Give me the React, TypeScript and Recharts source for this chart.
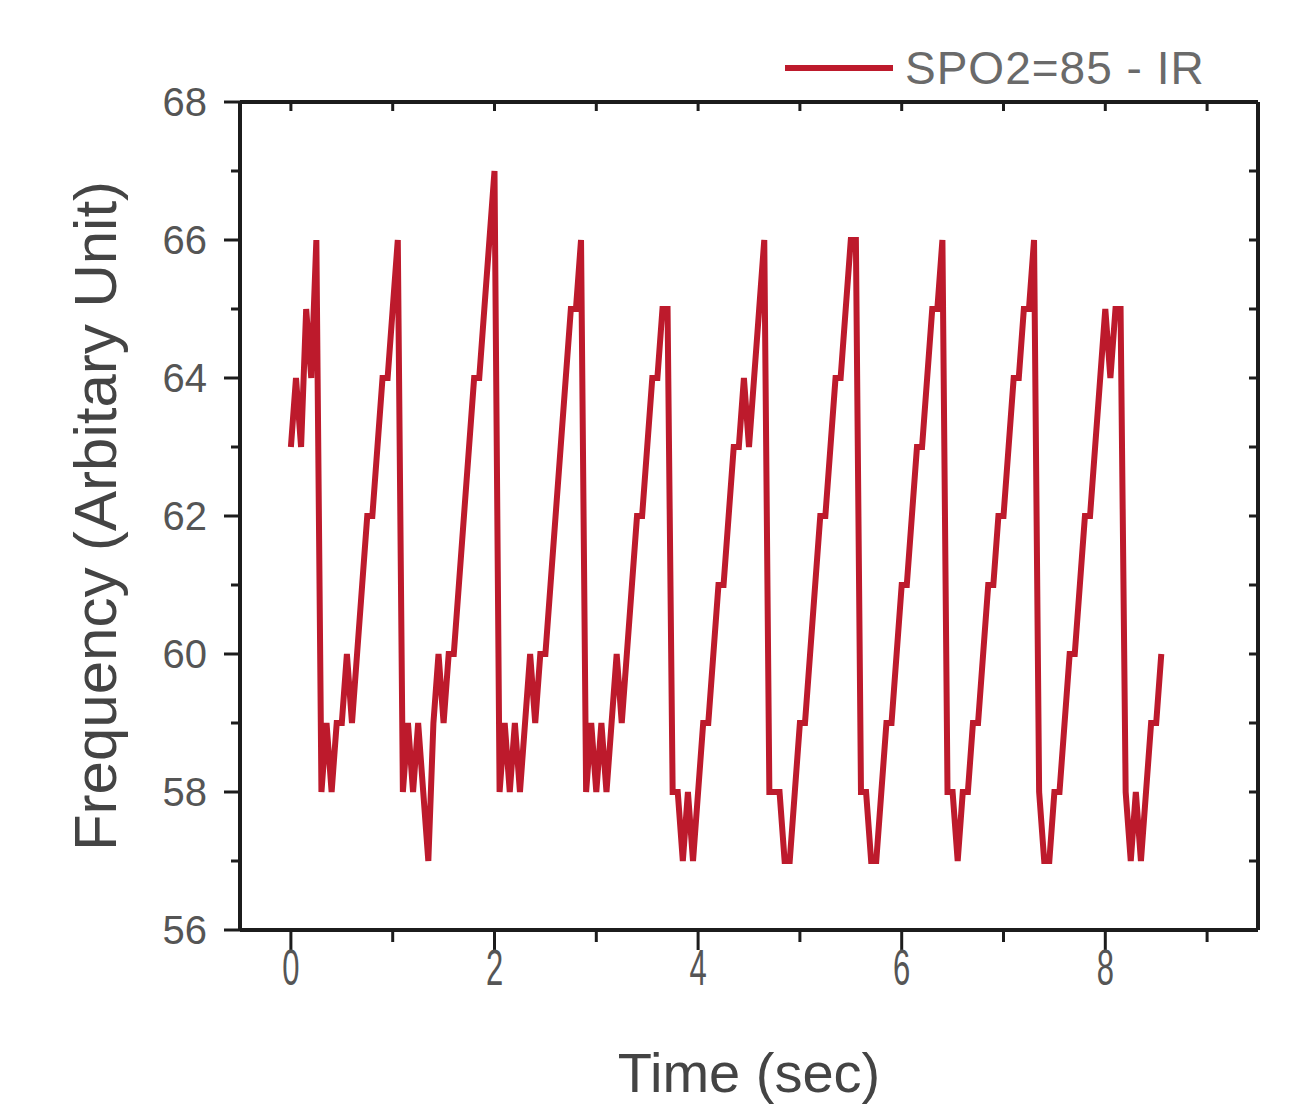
import React from 'react';
import { LineChart, Line, XAxis, YAxis, Legend, Label } from 'recharts';

// IR channel, one reading every SAMPLE_DT seconds
const SAMPLE_DT = 0.05;
const FREQ_IR = [
  63, 64, 63, 65, 64, 66,
  58, 59, 58, 59, 59, 60, 59, 60, 61, 62, 62, 63, 64, 64, 65, 66,
  58, 59, 58, 59, 58, 57, 59, 60, 59, 60, 60, 61, 62, 63, 64, 64, 65, 66, 67,
  58, 59, 58, 59, 58, 59, 60, 59, 60, 60, 61, 62, 63, 64, 65, 65, 66,
  58, 59, 58, 59, 58, 59, 60, 59, 60, 61, 62, 62, 63, 64, 64, 65, 65,
  58, 58, 57, 58, 57, 58, 59, 59, 60, 61, 61, 62, 63, 63, 64, 63, 64, 65, 66,
  58, 58, 58, 57, 57, 58, 59, 59, 60, 61, 62, 62, 63, 64, 64, 65, 66, 66,
  58, 58, 57, 57, 58, 59, 59, 60, 61, 61, 62, 63, 63, 64, 65, 65, 66,
  58, 58, 57, 58, 58, 59, 59, 60, 61, 61, 62, 62, 63, 64, 64, 65, 65, 66,
  58, 57, 57, 58, 58, 59, 60, 60, 61, 62, 62, 63, 64, 65, 64, 65, 65,
  58, 57, 58, 57, 58, 59, 59, 60,
];

const X_TICKS = [0, 1, 2, 3, 4, 5, 6, 7, 8, 9];
const Y_TICKS = [56, 57, 58, 59, 60, 61, 62, 63, 64, 65, 66, 67, 68];
const SERIES_NAME = 'SPO2=85 - IR';

const LINE_COLOR = '#bd1a2c';
const FRAME = '#1c1c1c';
const FONT = '"Liberation Sans", Arial, sans-serif';

const X_TICK_SIZE = 20;
const X_TICK_MARGIN = 10;
const Y_TICK_SIZE = 16;
const Y_TICK_MARGIN = 10;

const data = FREQ_IR.map((v, i) => ({ t: +(i * SAMPLE_DT).toFixed(3), v }));

function BottomTick(props: any) {
  const { x, y, payload } = props;
  const axisY = y - X_TICK_SIZE - X_TICK_MARGIN;
  const major = payload.value % 2 === 0;
  return (
    <g>
      <line x1={x} x2={x} y1={axisY} y2={axisY + (major ? 20 : 12)} stroke={FRAME} strokeWidth={3} />
      {major && (
        <text
          transform={`translate(${x},${axisY + 55}) scale(0.62,1)`}
          textAnchor="middle"
          fontSize={50}
          fontFamily={FONT}
          fill="#555"
        >
          {payload.value}
        </text>
      )}
    </g>
  );
}

function LeftTick(props: any) {
  const { x, y, payload } = props;
  const axisX = x + Y_TICK_SIZE + Y_TICK_MARGIN;
  const major = payload.value % 2 === 0;
  return (
    <g>
      <line x1={axisX - (major ? 16 : 9)} x2={axisX} y1={y} y2={y} stroke={FRAME} strokeWidth={3} />
      {major && (
        <text x={axisX - 33} y={y + 14} textAnchor="end" fontSize={40} fontFamily={FONT} fill="#555">
          {payload.value}
        </text>
      )}
    </g>
  );
}

function LegendBox() {
  return (
    <div style={{ display: 'flex', alignItems: 'center', fontFamily: FONT }}>
      <svg width={110} height={10}>
        <line x1={0} y1={5} x2={108} y2={5} stroke={LINE_COLOR} strokeWidth={6} />
      </svg>
      <span style={{ fontSize: 46, color: '#6a6a6a', marginLeft: 10, lineHeight: '52px', letterSpacing: 1 }}>
        {SERIES_NAME}
      </span>
    </div>
  );
}

export default function App() {
  return (
    <div style={{ position: 'absolute', left: 0, top: 0, background: '#fff' }}>
      <LineChart
        width={1299}
        height={1107}
        data={data}
        margin={{ top: 102, right: 41, bottom: 0, left: 160 }}
      >
        <XAxis
          xAxisId="bottom"
          dataKey="t"
          type="number"
          domain={[-0.5, 9.5]}
          ticks={X_TICKS}
          interval={0}
          height={177}
          tickLine={false}
          tickSize={X_TICK_SIZE}
          tickMargin={X_TICK_MARGIN}
          tick={<BottomTick />}
          axisLine={{ stroke: FRAME, strokeWidth: 4 }}
          allowDataOverflow
        >
          <Label value="Time (sec)" position="insideBottom" offset={15} fontSize={56} fontFamily={FONT} fill="#444" />
        </XAxis>
        <XAxis
          xAxisId="top"
          dataKey="t"
          type="number"
          orientation="top"
          mirror
          domain={[-0.5, 9.5]}
          ticks={X_TICKS}
          interval={0}
          tickSize={9}
          tickFormatter={() => ''}
          tickLine={{ stroke: FRAME, strokeWidth: 3 }}
          axisLine={{ stroke: FRAME, strokeWidth: 4 }}
          allowDataOverflow
        />
        <YAxis
          yAxisId="left"
          type="number"
          domain={[56, 68]}
          ticks={Y_TICKS}
          interval={0}
          width={80}
          tickLine={false}
          tickSize={Y_TICK_SIZE}
          tickMargin={Y_TICK_MARGIN}
          tick={<LeftTick />}
          axisLine={{ stroke: FRAME, strokeWidth: 4 }}
          allowDataOverflow
        >
          <Label
            content={(p: any) => {
              const vb = p.viewBox || { y: 102, height: 828 };
              const cy = vb.y + vb.height / 2;
              return (
                <text
                  transform={`translate(95,${cy}) rotate(-90)`}
                  textAnchor="middle"
                  dominantBaseline="central"
                  fontSize={60}
                  fontFamily={FONT}
                  fill="#444"
                >
                  Frequency (Arbitary Unit)
                </text>
              );
            }}
          />
        </YAxis>
        <YAxis
          yAxisId="right"
          type="number"
          orientation="right"
          mirror
          domain={[56, 68]}
          ticks={Y_TICKS}
          interval={0}
          tickSize={9}
          tickFormatter={() => ''}
          tickLine={{ stroke: FRAME, strokeWidth: 3 }}
          axisLine={{ stroke: FRAME, strokeWidth: 4 }}
          allowDataOverflow
        />
        <Legend
          layout="horizontal"
          verticalAlign="middle"
          align="center"
          content={() => <LegendBox />}
          wrapperStyle={{ position: 'absolute', top: 42, left: 785, width: 480 }}
        />
        <Line
          xAxisId="bottom"
          yAxisId="left"
          dataKey="v"
          name={SERIES_NAME}
          type="linear"
          stroke={LINE_COLOR}
          strokeWidth={6}
          dot={false}
          isAnimationActive={false}
        />
      </LineChart>
    </div>
  );
}
